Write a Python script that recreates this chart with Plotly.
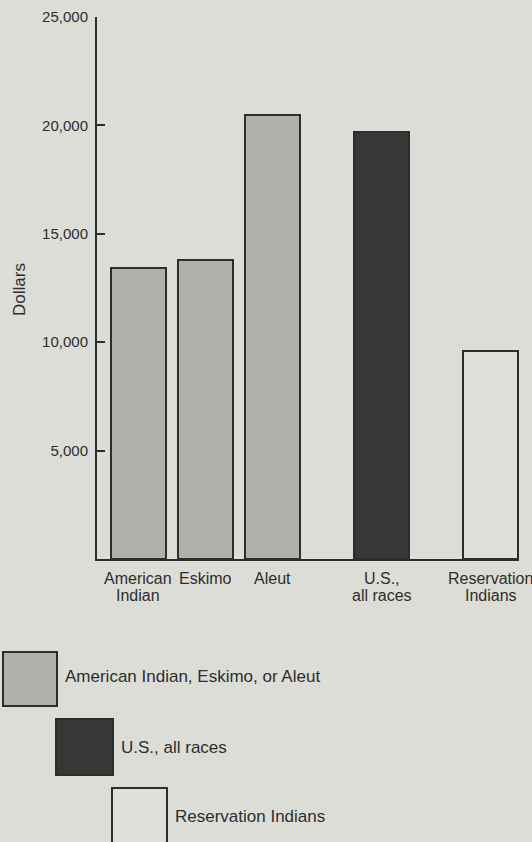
import plotly.graph_objects as go

# ---- data ----
categories = ["American<br>Indian", "Eskimo", "Aleut", "U.S.,<br>all races", "Reservation<br>Indians"]
groups = ["American Indian, Eskimo, or Aleut", "American Indian, Eskimo, or Aleut",
          "American Indian, Eskimo, or Aleut", "U.S., all races", "Reservation Indians"]
values = [13400, 13800, 20500, 19700, 9600]
y_ticks = [5000, 10000, 15000, 20000, 25000]
y_ticklabels = ["5,000", "10,000", "15,000", "20,000", "25,000"]
legend_labels = ["American Indian, Eskimo, or Aleut", "U.S., all races", "Reservation Indians"]

# ---- layout constants ----
W, H = 532, 842
L, R, T, B = 97, 519, 17, 559          # plot area in pixels
slots = [0, 1, 2, 3.62, 5.24]          # horizontal slot of each bar
BG = "#dcddd6"
INK = "#2d2d2d"
FONT = "Liberation Sans, Arial, Helvetica, sans-serif"
colors = {
    "American Indian, Eskimo, or Aleut": "#b0b1aa",
    "U.S., all races": "#373737",
    "Reservation Indians": "#dfe0da",
}


def px_x(px):
    return (px - L) / (R - L)


def px_y(py):
    return (B - py) / (B - T)


fig = go.Figure()
for g in legend_labels:
    idx = [i for i, gg in enumerate(groups) if gg == g]
    fig.add_trace(go.Bar(
        x=[slots[i] for i in idx],
        y=[values[i] for i in idx],
        width=0.82,
        name=g,
        marker=dict(color=colors[g], line=dict(color=INK, width=2)),
        showlegend=False,
        hoverinfo="y",
    ))

shapes = []
annotations = []

# category labels below the axis (one annotation per line for tight leading)
for s, cat in zip(slots, categories):
    for k, line in enumerate(cat.split("<br>")):
        annotations.append(dict(text=line, xref="x", yref="paper",
                                x=s, y=px_y(578 + 17 * k), xanchor="center", yanchor="middle",
                                showarrow=False, font=dict(family=FONT, size=16, color=INK)))

# custom staircase legend
legend_boxes = [(3, 57, 652, 706), (56, 113, 719, 775), (112, 167, 788, 846)]
legend_text_pos = [(63, 676), (119, 747), (173, 816)]
for g, (x0, x1, y0, y1), (tx, ty) in zip(legend_labels, legend_boxes, legend_text_pos):
    shapes.append(dict(type="rect", xref="paper", yref="paper",
                       x0=px_x(x0), x1=px_x(x1), y0=px_y(y1), y1=px_y(y0),
                       fillcolor=colors[g], line=dict(color=INK, width=2)))
    annotations.append(dict(text=g, xref="paper", yref="paper",
                            x=px_x(tx), y=px_y(ty), xanchor="left", yanchor="middle",
                            showarrow=False, font=dict(family=FONT, size=17, color=INK)))

annotations.append(dict(text="Dollars", xref="paper", yref="paper",
                        x=px_x(19), y=px_y(290), xanchor="center", yanchor="middle",
                        textangle=-90, showarrow=False,
                        font=dict(family=FONT, size=17, color=INK)))

fig.update_layout(
    width=W, height=H,
    margin=dict(l=L, r=W - R, t=T, b=H - B, pad=0, autoexpand=False),
    paper_bgcolor=BG, plot_bgcolor=BG,
    font=dict(family=FONT, color=INK),
    shapes=shapes, annotations=annotations,
    bargap=0,
    xaxis=dict(
        range=[-0.616, 5.66], tickvals=slots, showticklabels=False,
        showline=True, linecolor=INK, linewidth=2, ticks="",
        showgrid=False, zeroline=False, fixedrange=True, automargin=False,
    ),
    yaxis=dict(
        range=[0, 25000], tickvals=y_ticks, ticktext=y_ticklabels,
        showline=True, linecolor=INK, linewidth=2,
        ticks="inside", ticklen=8, tickwidth=2, tickcolor=INK,
        showgrid=False, zeroline=False, fixedrange=True, automargin=False,
        tickfont=dict(family=FONT, size=15, color=INK),
        ticklabelstandoff=4,
    ),
)

fig.write_html(
    "out.html",
    config={"displayModeBar": False},
    post_script="document.body.style.margin='0';document.body.style.background='" + BG + "';"
                "document.body.style.overflow='hidden';",
)
